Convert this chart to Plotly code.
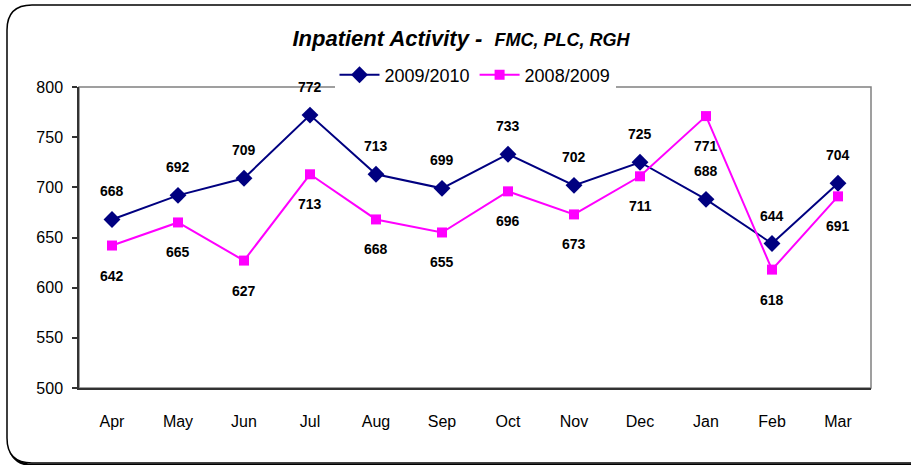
import plotly.graph_objects as go

months = ["Apr", "May", "Jun", "Jul", "Aug", "Sep", "Oct", "Nov", "Dec", "Jan", "Feb", "Mar"]
series_2009_2010 = [668, 692, 709, 772, 713, 699, 733, 702, 725, 688, 644, 704]
series_2008_2009 = [642, 665, 627, 713, 668, 655, 696, 673, 711, 771, 618, 691]
y_ticks = [500, 550, 600, 650, 700, 750, 800]

W, H = 911, 465
ML, MR, MT, MB = 79, 40, 87, 77
PW, PH = W - ML - MR, H - MT - MB

def px(x):
    return (x - ML) / PW

def py(y):
    return (H - MB - y) / PH

def rounded_path(L, T, R, B, r):
    pts = [
        ("M", [(L, T + r)]), ("Q", [(L, T), (L + r, T)]), ("L", [(R - r, T)]),
        ("Q", [(R, T), (R, T + r)]), ("L", [(R, B - r)]), ("Q", [(R, B), (R - r, B)]),
        ("L", [(L + r, B)]), ("Q", [(L, B), (L, B - r)]),
    ]
    s = ""
    for cmd, ps in pts:
        s += cmd + " " + " ".join(f"{px(a):.5f},{py(b):.5f}" for a, b in ps) + " "
    return s + "Z"

BLUE = "#000080"
PINK = "#FF00FF"
FONT = "Liberation Sans, Arial, sans-serif"
LABEL_FONT = dict(family="Liberation Sans Narrow, Arial Narrow, Liberation Sans, Arial", size=14, color="black")

fig = go.Figure()
fig.add_trace(go.Scatter(
    x=months, y=series_2009_2010, name="2009/2010", mode="lines+markers",
    line=dict(color=BLUE, width=2), marker=dict(symbol="diamond", size=13, color=BLUE),
))
fig.add_trace(go.Scatter(
    x=months, y=series_2008_2009, name="2008/2009", mode="lines+markers",
    line=dict(color=PINK, width=2), marker=dict(symbol="square", size=10, color=PINK),
))

annotations = []
for m, v in zip(months, series_2009_2010):
    annotations.append(dict(x=m, y=v, xref="x", yref="y", text=f"<b>{v}</b>", showarrow=False,
                            yshift=28, font=LABEL_FONT))
for m, v in zip(months, series_2008_2009):
    annotations.append(dict(x=m, y=v, xref="x", yref="y", text=f"<b>{v}</b>", showarrow=False,
                            yshift=-30, font=LABEL_FONT))

shapes = [
    dict(type="path", xref="paper", yref="paper", path=rounded_path(9, 7, 937, 465, 25),
         line=dict(color="black", width=2.5), layer="below"),
    dict(type="path", xref="paper", yref="paper", path=rounded_path(7, 5, 935, 463, 25),
         fillcolor="white", line=dict(color="black", width=1.5), layer="below"),
    dict(type="rect", xref="paper", yref="paper", x0=0, y0=0, x1=1, y1=1,
         line=dict(color="#808080", width=1.5), layer="below"),
]

fig.update_layout(
    width=W, height=H,
    margin=dict(l=ML, r=MR, t=MT, b=MB),
    paper_bgcolor="white", plot_bgcolor="white",
    font=dict(family=FONT, color="black", size=16),
    title=dict(
        text="<b><i>Inpatient Activity -\u00a0\u00a0</i></b><span style='font-size:18px'><b><i>FMC, PLC, RGH</i></b></span>",
        x=461 / W, xanchor="center", y=1 - 38 / H, yanchor="middle", yref="container",
        font=dict(family=FONT, size=22, color="black"),
    ),
    legend=dict(orientation="h", x=0.5, xanchor="center", y=py(75), yanchor="middle",
                bgcolor="white", font=dict(family=FONT, size=18, color="black"),
                itemwidth=40, tracegroupgap=0),
    shapes=shapes,
    annotations=annotations,
    showlegend=True,
)
fig.update_xaxes(
    type="category", categoryorder="array", categoryarray=months, range=[-0.5, 11.5],
    showline=True, linecolor="#333333", linewidth=1.5, showgrid=False, zeroline=False,
    ticks="", tickfont=dict(family=FONT, size=16, color="black"), ticklabelstandoff=18,
)
fig.update_yaxes(
    range=[500, 800], tickvals=y_ticks, ticktext=[str(t) for t in y_ticks],
    showline=True, linecolor="#333333", linewidth=1.5, showgrid=False, zeroline=False,
    ticks="outside", ticklen=5, tickcolor="#333333", tickwidth=1.5,
    tickfont=dict(family=FONT, size=16, color="black"), ticklabelstandoff=6,
)

fig.write_html("out.html", config={"displayModeBar": False},
               post_script="document.body.style.margin='0';")
